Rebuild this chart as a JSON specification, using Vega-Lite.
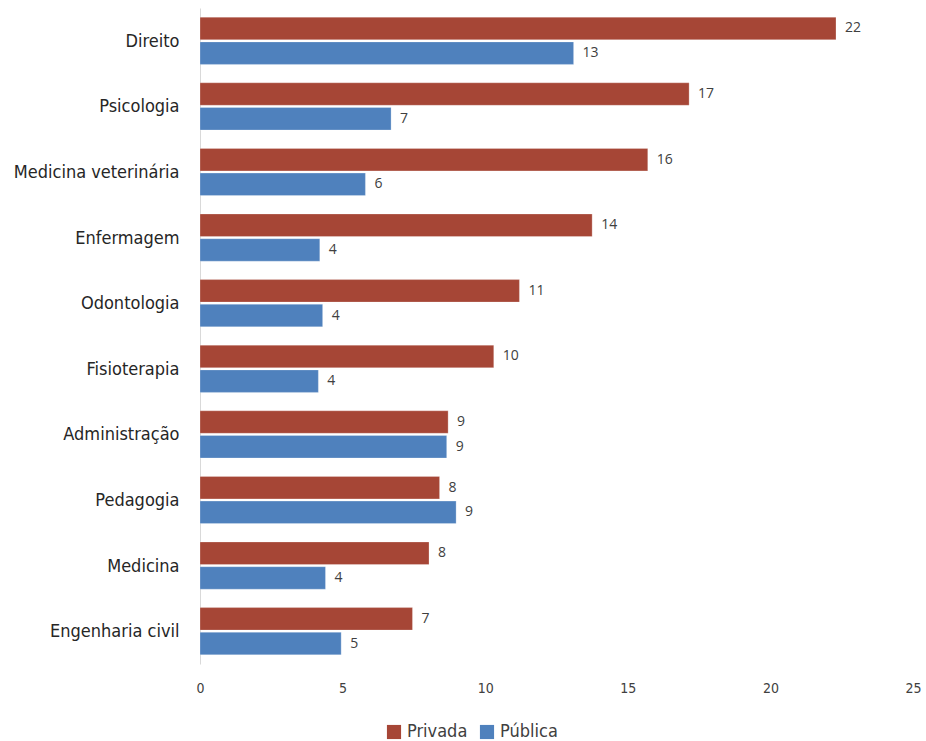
{
  "$schema": "https://vega.github.io/schema/vega-lite/v6.json",
  "width": 713,
  "height": 656,
  "autosize": {"type": "none"},
  "padding": {"left": 200, "top": 8, "right": 13, "bottom": 77},
  "background": "#ffffff",
  "config": {"view": {"stroke": null}},
  "data": {
    "values": [
      {"curso": "Direito", "tipo": "Privada", "valor": 22.3, "rotulo": "22"},
      {"curso": "Direito", "tipo": "Pública", "valor": 13.1, "rotulo": "13"},
      {"curso": "Psicologia", "tipo": "Privada", "valor": 17.15, "rotulo": "17"},
      {"curso": "Psicologia", "tipo": "Pública", "valor": 6.7, "rotulo": "7"},
      {"curso": "Medicina veterinária", "tipo": "Privada", "valor": 15.7, "rotulo": "16"},
      {"curso": "Medicina veterinária", "tipo": "Pública", "valor": 5.8, "rotulo": "6"},
      {"curso": "Enfermagem", "tipo": "Privada", "valor": 13.75, "rotulo": "14"},
      {"curso": "Enfermagem", "tipo": "Pública", "valor": 4.2, "rotulo": "4"},
      {"curso": "Odontologia", "tipo": "Privada", "valor": 11.2, "rotulo": "11"},
      {"curso": "Odontologia", "tipo": "Pública", "valor": 4.3, "rotulo": "4"},
      {"curso": "Fisioterapia", "tipo": "Privada", "valor": 10.3, "rotulo": "10"},
      {"curso": "Fisioterapia", "tipo": "Pública", "valor": 4.15, "rotulo": "4"},
      {"curso": "Administração", "tipo": "Privada", "valor": 8.7, "rotulo": "9"},
      {"curso": "Administração", "tipo": "Pública", "valor": 8.65, "rotulo": "9"},
      {"curso": "Pedagogia", "tipo": "Privada", "valor": 8.4, "rotulo": "8"},
      {"curso": "Pedagogia", "tipo": "Pública", "valor": 8.98, "rotulo": "9"},
      {"curso": "Medicina", "tipo": "Privada", "valor": 8.03, "rotulo": "8"},
      {"curso": "Medicina", "tipo": "Pública", "valor": 4.4, "rotulo": "4"},
      {"curso": "Engenharia civil", "tipo": "Privada", "valor": 7.45, "rotulo": "7"},
      {"curso": "Engenharia civil", "tipo": "Pública", "valor": 4.95, "rotulo": "5"}
    ]
  },
  "encoding": {
    "y": {
      "field": "curso",
      "type": "nominal",
      "sort": null,
      "title": null,
      "scale": {"paddingInner": 0.28, "paddingOuter": 0.14},
      "axis": {
        "ticks": false,
        "domainColor": "#d9d9d9",
        "domainWidth": 1,
        "labelFont": "DejaVu Sans Condensed",
        "labelFontSize": 18,
        "labelColor": "#262626",
        "labelPadding": 21,
        "labelOffset": 1
      }
    },
    "yOffset": {
      "field": "tipo",
      "type": "nominal",
      "sort": ["Privada", "Pública"],
      "scale": {"paddingInner": 0.09}
    },
    "x": {
      "field": "valor",
      "type": "quantitative",
      "title": null,
      "scale": {"domain": [0, 25], "nice": false},
      "axis": {
        "values": [0, 5, 10, 15, 20, 25],
        "grid": false,
        "domain": false,
        "ticks": false,
        "labelFont": "DejaVu Sans Condensed",
        "labelFontSize": 14,
        "labelColor": "#404040",
        "labelPadding": 17,
        "labelFlush": false
      }
    }
  },
  "layer": [
    {
      "mark": {"type": "bar", "stroke": "#ffffff", "strokeOpacity": 0.5, "strokeWidth": 0.5},
      "encoding": {
        "color": {
          "field": "tipo",
          "type": "nominal",
          "scale": {"domain": ["Privada", "Pública"], "range": ["#A64636", "#4F81BD"]},
          "legend": {
            "title": null,
            "orient": "none",
            "legendX": 185,
            "legendY": 715,
            "direction": "horizontal",
            "symbolType": "square",
            "symbolSize": 200,
            "symbolStrokeWidth": 0,
            "labelFont": "DejaVu Sans Condensed",
            "labelFontSize": 18,
            "labelColor": "#404040",
            "columnPadding": 10,
            "labelOffset": 4
          }
        }
      }
    },
    {
      "mark": {"type": "text", "align": "left", "dx": 9, "font": "Open Sans", "fontSize": 14, "color": "#404040"},
      "encoding": {"text": {"field": "rotulo"}}
    }
  ]
}
